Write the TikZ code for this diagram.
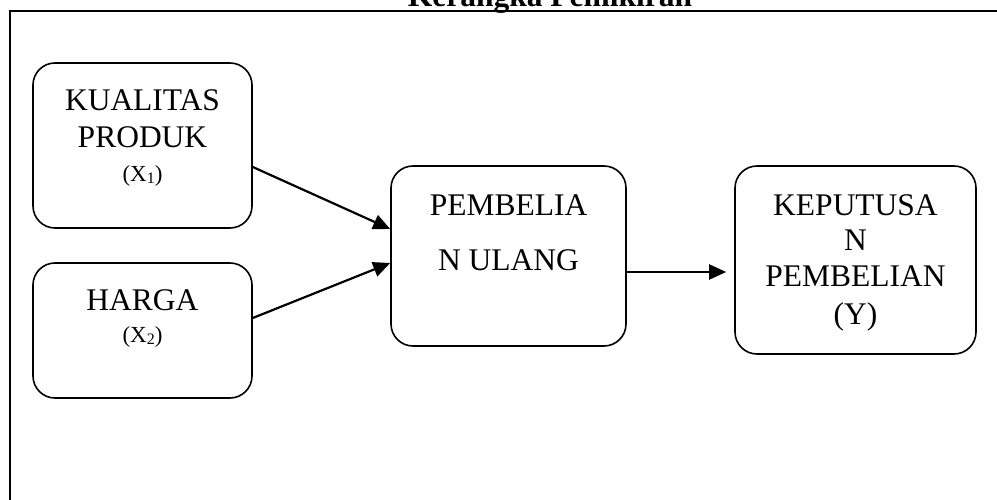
\documentclass[tikz,border=0pt]{standalone}
\usepackage{fontspec}
\setmainfont{Liberation Serif}
\usetikzlibrary{arrows.meta}
\newcommand{\mysub}[1]{\raisebox{-2pt}{\fontsize{16}{16}\selectfont #1}}
\begin{document}
\begin{tikzpicture}[x=1pt,y=-1pt,
  box/.style={draw, line width=1.6pt, rounded corners=22pt, inner sep=0pt},
  big/.style={anchor=base, inner sep=0pt, font=\fontsize{31.5}{36}\selectfont},
  small/.style={anchor=base, inner sep=0pt, font=\fontsize{23}{26}\selectfont},
  conn/.style={line width=2.2pt, -{Triangle[length=17pt,width=15pt]}}]
\useasboundingbox (0,0) rectangle (997,500);
\clip (0,0) rectangle (997,500);
% title (cut off at top)
\node[anchor=base, inner sep=0pt, font=\bfseries\fontsize{31.5}{36}\selectfont] (title) at (550,6.5) {Kerangka Pemikiran};
% frame
\draw[line width=2.2pt] (10,11) rectangle (1020,530);
% boxes
\node[box, minimum width=219pt, minimum height=165pt] (b1) at (142.5,145.5) {};
\node[box, minimum width=219pt, minimum height=135pt] (b2) at (142.5,330.5) {};
\node[box, minimum width=235pt, minimum height=180pt] (b3) at (508.5,256) {};
\node[box, minimum width=241pt, minimum height=188pt] (b4) at (855.5,260) {};
% texts
\node[big] (t1a) at (142.5,111) {KUALITAS};
\node[big] (t1b) at (142.5,148) {PRODUK};
\node[small] (t1c) at (142.5,182) {(X\mysub{1})};
\node[big] (t2a) at (142.5,310) {HARGA};
\node[small] (t2b) at (142.5,342) {(X\mysub{2})};
\node[big] (t3a) at (508.5,215) {PEMBELIA};
\node[big] (t3b) at (508.5,270) {N ULANG};
\node[big] (t4a) at (855.5,215) {KEPUTUSA};
\node[big] (t4b) at (855.5,251) {N};
\node[big] (t4c) at (855.5,287) {PEMBELIAN};
\node[big] (t4d) at (855.5,324) {(Y)};
% connectors
\draw[conn] ([yshift=-21.5pt]b1.east) -- ([yshift=27pt]b3.west);
\draw[conn] ([yshift=12.5pt]b2.east) -- ([yshift=-7pt]b3.west);
\draw[conn] ([yshift=-16pt]b3.east) -- ([xshift=-8pt,yshift=-12pt]b4.west);
\end{tikzpicture}
\end{document}
